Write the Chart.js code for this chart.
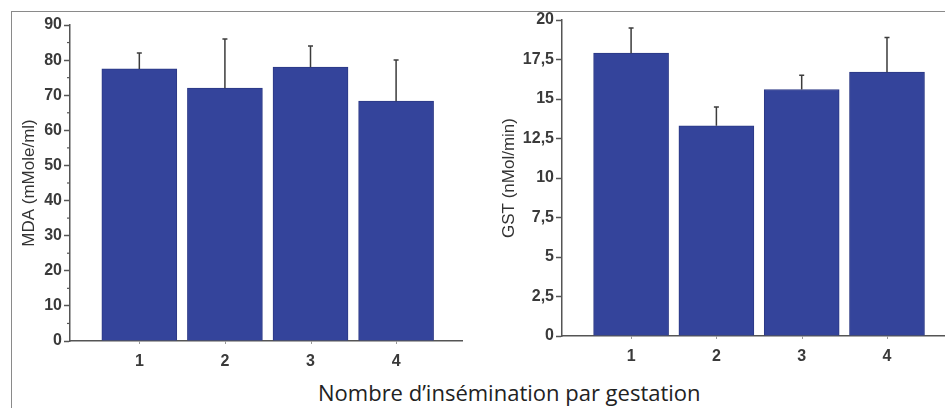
<!DOCTYPE html>
<html>
<head>
<meta charset="utf-8">
<script src="https://cdn.jsdelivr.net/npm/chart.js@4/dist/chart.umd.min.js"></script>
<style>
  html, body { margin: 0; padding: 0; background: #fff; }
  body { width: 945px; height: 408px; position: relative; overflow: hidden; }
  #frame { position: absolute; left: 11px; top: 11px; width: 940px; height: 400px;
           border-top: 1.5px solid #8a8a8a; border-left: 1.5px solid #8a8a8a; box-sizing: border-box; }
  #c1 { position: absolute; left: 0; top: 0; }
  #c2 { position: absolute; left: 480px; top: 0; }
  #caption { position: absolute; left: 318px; top: 379px; font-family: 'Open Sans', sans-serif;
             font-size: 22px; line-height: 26px; color: #222; white-space: nowrap; }
</style>
</head>
<body>
<div id="frame"></div>
<canvas id="c1" width="480" height="370"></canvas>
<canvas id="c2" width="465" height="370"></canvas>
<div id="caption">Nombre d’insémination par gestation</div>
<script>
// ---- data ----
const categories = [1, 2, 3, 4];
const categoryLabels = ['1', '2', '3', '4'];
const mdaValues = [77.5, 72, 78, 68.3];
const mdaErrorTop = [82, 86, 84, 80];
const gstValues = [17.9, 13.3, 15.6, 16.7];
const gstErrorTop = [19.5, 14.5, 16.5, 18.9];
const mdaTicks = [0, 10, 20, 30, 40, 50, 60, 70, 80, 90];
const mdaMinorTicks = [5, 15, 25, 35, 45, 55, 65, 75, 85];
const gstTicks = [0, 2.5, 5, 7.5, 10, 12.5, 15, 17.5, 20];
const gstTickLabels = ['0', '2,5', '5', '7,5', '10', '12,5', '15', '17,5', '20'];

const barColor = '#34449b';
const axisColor = '#555';
const tickFont = { family: 'Liberation Sans', size: 16, weight: 'bold' };
const titleFont = { family: 'Liberation Sans', size: 17, weight: 'normal' };

const errorBarPlugin = {
  id: 'errorBars',
  afterDatasetsDraw(chart, args, opts) {
    const { ctx } = chart;
    const xs = chart.scales.x, ys = chart.scales.y;
    ctx.save();
    ctx.strokeStyle = '#3c3c3c';
    ctx.lineWidth = 1.5;
    opts.tops.forEach((t, i) => {
      const x = xs.getPixelForValue(categories[i]);
      const y0 = ys.getPixelForValue(opts.values[i]);
      const y1 = ys.getPixelForValue(t);
      ctx.beginPath();
      ctx.moveTo(x, y0); ctx.lineTo(x, y1);
      ctx.moveTo(x - 2.5, y1); ctx.lineTo(x + 2.5, y1);
      ctx.stroke();
    });
    ctx.restore();
  }
};

const extraTickPlugin = {
  id: 'extraTicks',
  afterDraw(chart, args, opts) {
    const { ctx } = chart;
    const ys = chart.scales.y, xs = chart.scales.x;
    ctx.save();
    ctx.strokeStyle = axisColor;
    ctx.lineWidth = 1.2;
    (opts.minor || []).forEach(v => {
      const y = ys.getPixelForValue(v);
      ctx.beginPath();
      ctx.moveTo(ys.right, y); ctx.lineTo(ys.right - 3, y);
      ctx.stroke();
    });
    ctx.strokeStyle = '#999';
    ctx.lineWidth = 1;
    categories.forEach(c => {
      const x = Math.round(xs.getPixelForValue(c)) + 0.5;
      ctx.beginPath();
      ctx.moveTo(x, xs.top); ctx.lineTo(x, xs.top + 3);
      ctx.stroke();
    });
    ctx.restore();
  }
};

function makeChart(id, cfg) {
  return new Chart(document.getElementById(id), {
    type: 'bar',
    data: {
      datasets: [{
        data: categories.map((c, i) => ({ x: c, y: cfg.values[i] })),
        backgroundColor: barColor,
        borderColor: '#2b3885',
        borderWidth: 1,
        barThickness: 75
      }]
    },
    options: {
      responsive: false,
      animation: false,
      devicePixelRatio: 1,
      layout: { padding: { top: cfg.padTop, right: cfg.padRight, left: 0, bottom: 0 } },
      plugins: {
        legend: { display: false },
        tooltip: { enabled: false },
        errorBars: { values: cfg.values, tops: cfg.tops },
        extraTicks: { minor: cfg.minor }
      },
      scales: {
        x: {
          type: 'linear',
          offset: false,
          min: 0.19,
          max: cfg.xMax,
          afterBuildTicks: s => { s.ticks = categories.map(v => ({ value: v })); },
          afterFit: s => { s.height = cfg.xHeight; },
          ticks: {
            callback: v => categoryLabels[categories.indexOf(v)],
            font: tickFont, color: '#3a3a3a', padding: 11, maxRotation: 0, autoSkip: false
          },
          grid: { offset: false, drawOnChartArea: false, drawTicks: false },
          border: { display: true, color: axisColor, width: 1.5 }
        },
        y: {
          min: 0,
          max: cfg.yMax,
          afterBuildTicks: s => { s.ticks = cfg.ticks.map(v => ({ value: v })); },
          afterFit: s => { s.width = cfg.yWidth; },
          ticks: {
            callback: v => cfg.tickLabels[cfg.ticks.indexOf(v)],
            font: tickFont, color: '#3a3a3a', padding: 2, autoSkip: false
          },
          grid: { drawOnChartArea: false, drawTicks: true, tickLength: 6, tickColor: axisColor, tickWidth: 1.5 },
          border: { display: true, color: axisColor, width: 1.5 },
          title: { display: true, text: cfg.title, font: titleFont, color: '#333', padding: { top: cfg.titlePad, bottom: 0 } }
        }
      }
    },
    plugins: [errorBarPlugin, extraTickPlugin]
  });
}

makeChart('c1', {
  values: mdaValues, tops: mdaErrorTop, minor: mdaMinorTicks,
  ticks: mdaTicks, tickLabels: mdaTicks.map(String), yMax: 90,
  title: 'MDA (mMole/ml)', titlePad: 19,
  padTop: 25, padRight: 18, xMax: 4.77, xHeight: 29, yWidth: 70
});
makeChart('c2', {
  values: gstValues, tops: gstErrorTop, minor: null,
  ticks: gstTicks, tickLabels: gstTickLabels, yMax: 20,
  title: 'GST (nMol/min)', titlePad: 19,
  padTop: 20, padRight: 0, xMax: 4.68, xHeight: 34, yWidth: 82
});
</script>
</body>
</html>
